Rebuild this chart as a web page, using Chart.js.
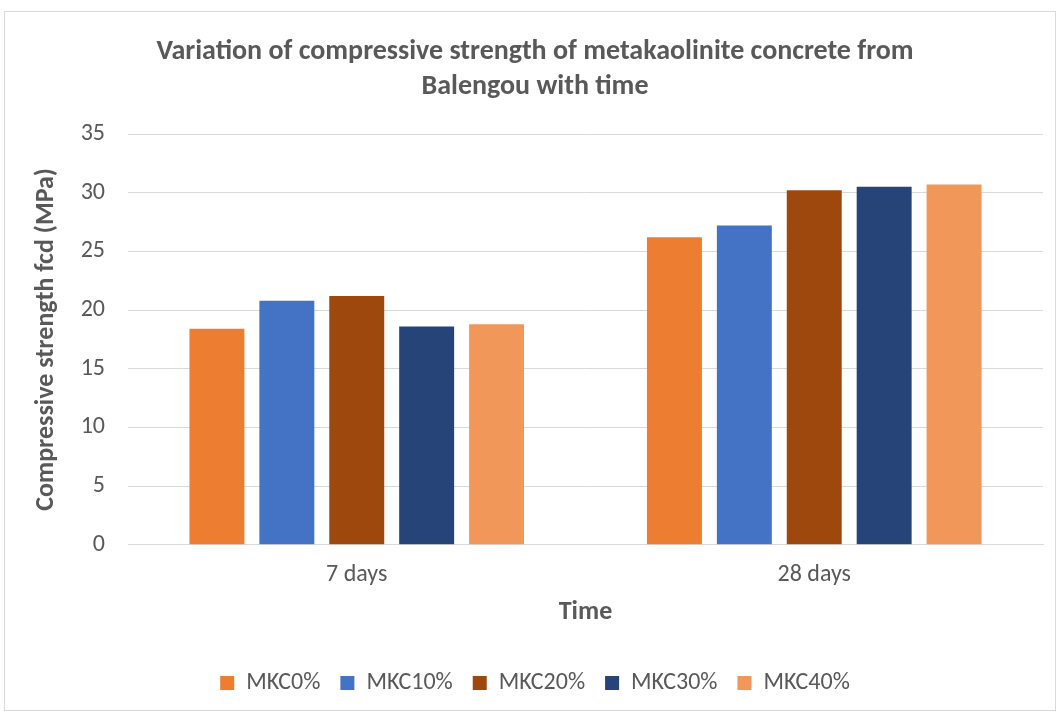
<!DOCTYPE html>
<html>
<head>
<meta charset="utf-8">
<script src="https://cdn.jsdelivr.net/npm/chart.js@4"></script>
<style>
  html, body { margin: 0; padding: 0; background: #fff; }
  #frame {
    position: absolute; left: 4px; top: 11px;
    width: 1050px; height: 698px;
    border: 1px solid #d9d9d9;
  }
  #chart { display: block; }
</style>
</head>
<body>
<div id="frame"><canvas id="chart" width="1050" height="698"></canvas></div>
<script>
// Compressive strength (MPa)
const categories = ['7 days', '28 days'];
const seriesNames = ['MKC0%', 'MKC10%', 'MKC20%', 'MKC30%', 'MKC40%'];
const mkc0 = [18.4, 26.2];
const mkc10 = [20.8, 27.2];
const mkc20 = [21.2, 30.2];
const mkc30 = [18.6, 30.5];
const mkc40 = [18.8, 30.7];
const yTicks = [0, 5, 10, 15, 20, 25, 30, 35];

const colors = ['#ED7D31', '#4472C4', '#9E480E', '#264478', '#F1975A'];
const FONT = 'Carlito, Lato, sans-serif';
const TEXT = '#595959';

const values = [mkc0, mkc10, mkc20, mkc30, mkc40];

const strengthChart = new Chart(document.getElementById('chart'), {
  type: 'bar',
  data: {
    labels: categories,
    datasets: seriesNames.map((name, i) => ({
      label: name,
      data: values[i],
      backgroundColor: colors[i],
      categoryPercentage: 0.764,
      barPercentage: 0.786,
    })),
  },
  options: {
    responsive: false,
    animation: false,
    layout: { padding: { left: 22, right: 12, top: 22, bottom: 5 } },
    plugins: {
      title: {
        display: true,
        text: ['Variation of compressive strength of metakaolinite concrete from', 'Balengou with time'],
        color: TEXT,
        font: { family: FONT, size: 28, weight: 'bold', lineHeight: 1.25 },
        padding: { top: 0, bottom: 30 },
      },
      legend: {
        position: 'bottom',
        labels: {
          color: TEXT,
          font: { family: FONT, size: 24 },
          boxWidth: 14,
          boxHeight: 14,
          padding: 20,
        },
      },
      tooltip: { enabled: false },
    },
    scales: {
      x: {
        grid: { display: false },
        border: { color: '#d9d9d9' },
        ticks: { color: TEXT, font: { family: FONT, size: 24, lineHeight: 0.665 }, padding: 14 },
        title: {
          display: true,
          text: 'Time',
          color: TEXT,
          font: { family: FONT, size: 26, weight: 'bold' },
          padding: { top: 0, bottom: 23 },
        },
      },
      y: {
        min: 0,
        max: 35,
        afterBuildTicks: axis => { axis.ticks = yTicks.map(v => ({ value: v })); },
        afterFit: axis => { axis.width = 101; },
        grid: { color: '#d9d9d9', drawTicks: false },
        border: { display: false },
        ticks: { color: TEXT, font: { family: FONT, size: 24 }, padding: 23 },
        title: {
          display: true,
          text: 'Compressive strength fcd (MPa)',
          color: TEXT,
          font: { family: FONT, size: 26, weight: 'bold' },
          padding: { top: 4, bottom: 0 },
        },
      },
    },
  },
});
</script>
</body>
</html>
